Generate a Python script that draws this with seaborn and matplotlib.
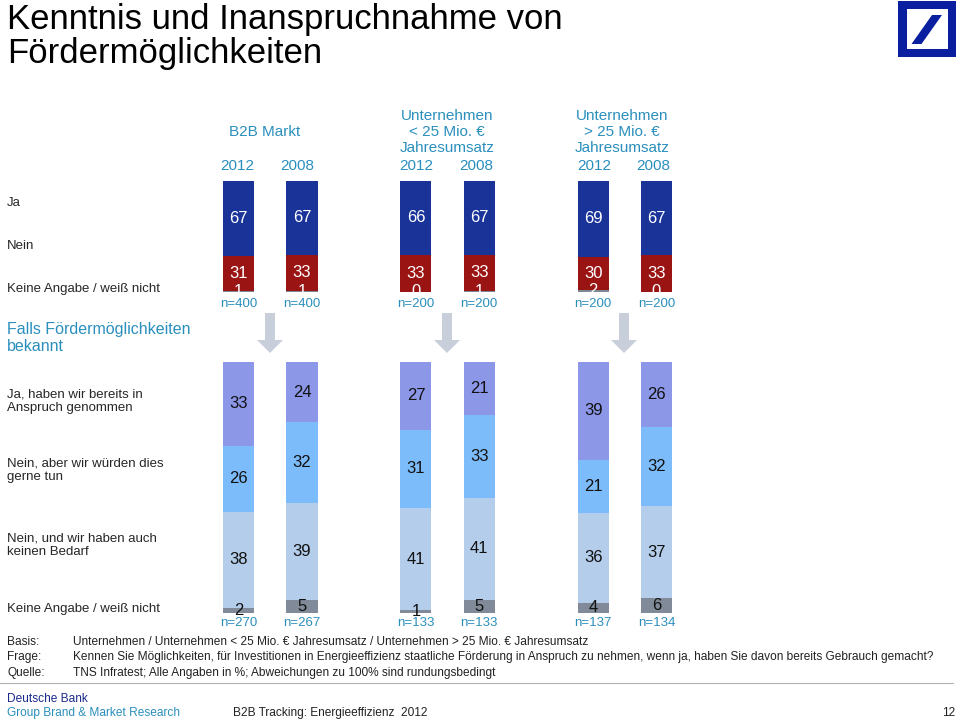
import numpy as np
import matplotlib
matplotlib.use("Agg")
import matplotlib.pyplot as plt
from matplotlib.patches import Polygon, Rectangle
from matplotlib.lines import Line2D
import seaborn as sns

# --- Daten ---
bar_pos = [0, 1, 2.8, 3.8, 5.6, 6.6]
years = ["2012", "2008", "2012", "2008", "2012", "2008"]
group_titles = ["B2B Markt",
                "Unternehmen\n< 25 Mio. €\nJahresumsatz",
                "Unternehmen\n> 25 Mio. €\nJahresumsatz"]

# Kenntnis (unten -> oben: keine Angabe, Nein, Ja)
ja = [67, 67, 66, 67, 69, 67]
nein = [31, 33, 33, 33, 30, 33]
keine_angabe = [1, 1, 0, 1, 2, 0]
n_kenntnis = [400, 400, 200, 200, 200, 200]

# Falls bekannt: Inanspruchnahme
bereits = [33, 24, 27, 21, 39, 26]
gerne = [26, 32, 31, 33, 21, 32]
kein_bedarf = [38, 39, 41, 41, 36, 37]
keine_angabe_2 = [2, 5, 1, 5, 4, 6]
n_bekannt = [270, 267, 133, 133, 137, 134]

labels_top = ["Ja", "Nein", "Keine Angabe / weiß nicht"]
labels_bottom = ["Ja, haben wir bereits in\nAnspruch genommen",
                 "Nein, aber wir würden dies\ngerne tun",
                 "Nein, und wir haben auch\nkeinen Bedarf",
                 "Keine Angabe / weiß nicht"]

# --- Stil ---
sns.set_style("white")
plt.rcParams["font.family"] = ["Liberation Sans", "DejaVu Sans"]

W, H = 960, 723
TEAL = "#2a8fbd"
DB_BLUE = "#0a1ea0"


def fx(x):
    return x / W


def fy(y):
    return 1 - y / H


def unit_x(px):
    # Pixel -> Datenkoordinate (Balkenabstand 63.3 px, erster Balken bei 238.7 px)
    return (px - 238.7) / 63.3


fig = plt.figure(figsize=(9.6, 7.23), dpi=100)


def stacked(ax, segs, colors, txt_color, clip):
    data = np.array(segs, dtype=float)
    share = data / data.sum(axis=0) * 100
    cum = np.cumsum(share, axis=0)
    for i in range(len(segs) - 1, -1, -1):
        sns.barplot(x=bar_pos, y=cum[i], native_scale=True, width=0.49,
                    color=colors[i], saturation=1, errorbar=None,
                    linewidth=0, ax=ax)
    for i in range(len(segs)):
        mid = cum[i] - share[i] / 2
        for x, m, v in zip(bar_pos, mid, data[i]):
            ax.text(x, m, f"{v:.0f}", ha="center", va="center",
                    fontsize=12, color=txt_color, clip_on=clip)
    ax.set_xlim(unit_x(200), unit_x(700))
    ax.set_ylim(0, 100)
    ax.set_axis_off()


# Obere Balken
ax_top = fig.add_axes([fx(200), fy(292), 500 / W, 111 / H])
stacked(ax_top, [keine_angabe, nein, ja],
        ["#7d8795", "#9b1414", "#1a3399"], "white", True)
for x, n in zip(bar_pos, n_kenntnis):
    ax_top.text(x, -11, f"n={n}", ha="center", va="center",
                fontsize=9.5, color=TEAL, clip_on=False)

# Untere Balken
ax_bot = fig.add_axes([fx(200), fy(613), 500 / W, 251 / H])
stacked(ax_bot, [keine_angabe_2, kein_bedarf, gerne, bereits],
        ["#808a98", "#b4cdeb", "#7dbcfa", "#8c97e8"], "#111111", False)
for x, n in zip(bar_pos, n_bekannt):
    ax_bot.text(x, -4.0, f"n={n}", ha="center", va="center",
                fontsize=9.5, color=TEAL, clip_on=False)

# Kopfzeilen
group_centers = [265, 447, 622]
for cx, t in zip(group_centers, group_titles):
    fig.text(fx(cx), fy(132), t, ha="center", va="center", fontsize=11,
             color=TEAL, linespacing=1.22)
year_px = [237, 297, 416, 476, 594, 653]
for px, yr in zip(year_px, years):
    fig.text(fx(px), fy(166), yr, ha="center", va="center", fontsize=11,
             color=TEAL)

# Titel
fig.text(fx(7), fy(29), "Kenntnis und Inanspruchnahme von", fontsize=25,
         va="baseline", ha="left", color="black")
fig.text(fx(7), fy(63), "Fördermöglichkeiten", fontsize=25,
         va="baseline", ha="left", color="black")

# Zeilenbeschriftungen
for lab, py in zip(labels_top, [203, 246, 289]):
    fig.text(fx(7), fy(py), lab, fontsize=9.5, va="center", ha="left")
fig.text(fx(7), fy(338), "Falls Fördermöglichkeiten\nbekannt", fontsize=11.5,
         va="center", ha="left", color=TEAL, linespacing=1.1)
for lab, py in zip(labels_bottom, [401, 470, 545, 609]):
    fig.text(fx(7), fy(py), lab, fontsize=9.5, va="center", ha="left",
             linespacing=1.2)

# Pfeile
for cx in [270, 447, 624]:
    pts = [(cx - 5, 313), (cx + 5, 313), (cx + 5, 340), (cx + 13, 340),
           (cx, 353), (cx - 13, 340), (cx - 5, 340)]
    fig.patches.append(Polygon([(fx(a), fy(b)) for a, b in pts],
                               closed=True, transform=fig.transFigure,
                               facecolor="#c8cfda", edgecolor="none"))

# Logo
fig.patches.append(Rectangle((fx(898), fy(57)), 58 / W, 56 / H,
                             transform=fig.transFigure, facecolor=DB_BLUE,
                             edgecolor="none"))
fig.patches.append(Rectangle((fx(906.5), fy(48.5)), 41 / W, 39 / H,
                             transform=fig.transFigure, facecolor="white",
                             edgecolor="none"))
slash = [(911.5, 44), (921.5, 44), (942, 15), (932, 15)]
fig.patches.append(Polygon([(fx(a), fy(b)) for a, b in slash], closed=True,
                           transform=fig.transFigure, facecolor=DB_BLUE,
                           edgecolor="none"))

# Fußnoten
foot = [("Basis:", "Unternehmen / Unternehmen < 25 Mio. € Jahresumsatz / Unternehmen > 25 Mio. € Jahresumsatz"),
        ("Frage:", "Kennen Sie Möglichkeiten, für Investitionen in Energieeffizienz staatliche Förderung in Anspruch zu nehmen, wenn ja, haben Sie davon bereits Gebrauch gemacht?"),
        ("Quelle:", "TNS Infratest; Alle Angaben in %; Abweichungen zu 100% sind rundungsbedingt")]
for (k, v), py in zip(foot, [642, 657, 673]):
    fig.text(fx(7), fy(py), k, fontsize=8.6, va="center", ha="left", color="#222222")
    fig.text(fx(73), fy(py), v, fontsize=8.6, va="center", ha="left", color="#222222")

fig.lines.append(Line2D([0, fx(953)], [fy(683), fy(683)], transform=fig.transFigure,
                        color="#b0b0b0", linewidth=0.8))

fig.text(fx(7), fy(699), "Deutsche Bank", fontsize=8.6, va="center", ha="left", color="#1a2a8c")
fig.text(fx(7), fy(713), "Group Brand & Market Research", fontsize=8.6, va="center",
         ha="left", color=TEAL)
fig.text(fx(233), fy(713), "B2B Tracking: Energieeffizienz  2012", fontsize=8.6,
         va="center", ha="left", color="#222222")
fig.text(fx(955), fy(713), "12", fontsize=8.6, va="center", ha="right", color="#222222")

fig.savefig("out.png", dpi=100)
